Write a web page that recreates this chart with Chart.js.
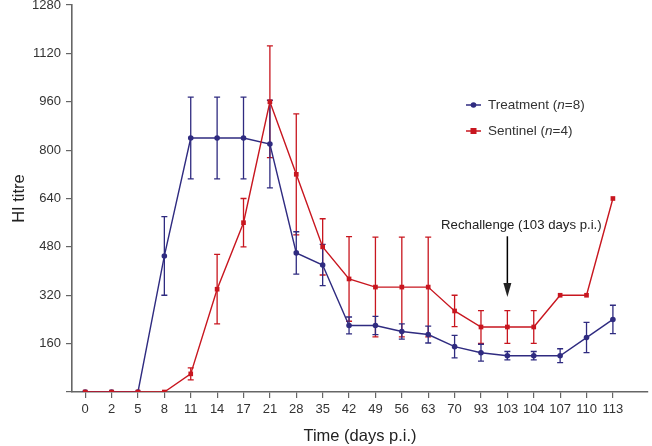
<!DOCTYPE html>
<html><head><meta charset="utf-8">
<script src="https://cdn.jsdelivr.net/npm/chart.js@4/dist/chart.umd.min.js"></script>
<style>html,body{margin:0;padding:0;background:#fff}</style>
</head><body>
<canvas id="c" width="652" height="446"></canvas>
<script>
const categories = ['0','2','5','8','11','14','17','21','28','35','42','49','56','63','70','93','103','104','107','110','113'];
const treatment    = [0,0,0,450,840,840,840,820,460,420,220,220,200,190,150,130,120,120,120,180,240];
const treatmentErr = [0,0,0,130,135,135,135,145,70,68,28,30,25,28,37,28,14,14,23,50,47];
const sentinel     = [0,0,0,0,60,340,560,960,720,480,374,347,347,347,268,215,215,215,320,320,640];
const sentinelErr  = [0,0,0,0,20,115,80,185,200,93,140,165,165,165,52,54,54,54,0,0,0];
const yTicks = [0,160,320,480,640,800,960,1120,1280];
const seriesNames = ['Treatment', 'Sentinel'];
const seriesN = ['8', '4'];
const rechallengeLabel = 'Rechallenge (103 days p.i.)';
const rechallengeDay = '103';
const rechallengeText = 550, arrowFrom = 515, arrowTo = 314;

const BLUE = '#2f2b80', RED = '#c8161f';
const FONT = '"Liberation Sans", Arial, sans-serif';

const errBars = {
  id: 'errBars',
  beforeDatasetsDraw(chart) {
    const ctx = chart.ctx, xs = chart.scales.x, ys = chart.scales.y;
    chart.data.datasets.forEach(ds => {
      ctx.save();
      ctx.strokeStyle = ds.borderColor; ctx.lineWidth = 1.3;
      ds.data.forEach((p, i) => {
        const e = ds.err[i]; if (!e) return;
        const x = xs.getPixelForValue(p.x);
        const y1 = ys.getPixelForValue(p.y + e), y2 = ys.getPixelForValue(p.y - e);
        ctx.beginPath();
        ctx.moveTo(x, y1); ctx.lineTo(x, y2);
        ctx.moveTo(x - 3, y1); ctx.lineTo(x + 3, y1);
        ctx.moveTo(x - 3, y2); ctx.lineTo(x + 3, y2);
        ctx.stroke();
      });
      ctx.restore();
    });
  }
};

const extras = {
  id: 'extras',
  afterDraw(chart) {
    const ctx = chart.ctx, xs = chart.scales.x, ys = chart.scales.y;
    // legend
    const lx = 466, ly0 = 105, gap = 26;
    [[BLUE, 'circle'], [RED, 'rect']].forEach((s, k) => {
      const y = ly0 + k * gap;
      ctx.save();
      ctx.strokeStyle = s[0]; ctx.fillStyle = s[0]; ctx.lineWidth = 1.5;
      ctx.beginPath(); ctx.moveTo(lx, y); ctx.lineTo(lx + 15, y); ctx.stroke();
      if (s[1] === 'circle') { ctx.beginPath(); ctx.arc(lx + 7.5, y, 2.8, 0, Math.PI * 2); ctx.fill(); }
      else ctx.fillRect(lx + 4.5, y - 3, 6, 6);
      ctx.fillStyle = '#333'; ctx.textBaseline = 'middle'; ctx.textAlign = 'left';
      let x = lx + 22;
      const parts = [[seriesNames[k] + ' (', 'normal'], ['n', 'italic'], ['=' + seriesN[k] + ')', 'normal']];
      parts.forEach(p => {
        ctx.font = p[1] + ' 13.5px ' + FONT;
        ctx.fillText(p[0], x, y);
        x += ctx.measureText(p[0]).width;
      });
      ctx.restore();
    });
    // rechallenge annotation
    const ax = xs.getPixelForValue(categories.indexOf(rechallengeDay));
    ctx.save();
    ctx.fillStyle = '#222'; ctx.font = '13.2px ' + FONT;
    ctx.textAlign = 'center'; ctx.textBaseline = 'middle';
    ctx.fillText(rechallengeLabel, ax + 14, ys.getPixelForValue(rechallengeText));
    const a1 = ys.getPixelForValue(arrowFrom), a2 = ys.getPixelForValue(arrowTo);
    ctx.strokeStyle = '#000'; ctx.lineWidth = 1.5;
    ctx.beginPath(); ctx.moveTo(ax, a1); ctx.lineTo(ax, a2 - 10); ctx.stroke();
    ctx.beginPath(); ctx.moveTo(ax - 4, a2 - 14); ctx.lineTo(ax + 4, a2 - 14); ctx.lineTo(ax, a2); ctx.closePath(); ctx.fill();
    ctx.restore();
  }
};

const toPts = arr => arr.map((v, i) => ({x: i, y: v}));

new Chart(document.getElementById('c'), {
  type: 'line',
  data: {
    datasets: [
      { label: 'Sentinel (n=4)', data: toPts(sentinel), err: sentinelErr, borderColor: RED, backgroundColor: RED,
        borderWidth: 1.4, pointStyle: 'rect', pointRadius: 3.3, pointBorderWidth: 0, tension: 0 },
      { label: 'Treatment (n=8)', data: toPts(treatment), err: treatmentErr, borderColor: BLUE, backgroundColor: BLUE,
        borderWidth: 1.4, pointStyle: 'circle', pointRadius: 2.8, pointBorderWidth: 0, tension: 0 }
    ]
  },
  options: {
    responsive: false, animation: false, devicePixelRatio: 1,
    layout: { padding: 0 },
    plugins: { legend: { display: false }, tooltip: { enabled: false } },
    scales: {
      x: {
        type: 'linear', min: -0.5, max: categories.length + 0.33,
        afterBuildTicks: s => { s.ticks = categories.map((c, i) => ({ value: i })); },
        afterFit: s => { s.height = 54; s.paddingLeft = 0; s.paddingRight = 0; },
        grid: { display: true, drawOnChartArea: false, drawTicks: true, tickLength: 6, color: '#666', lineWidth: 1.2 },
        border: { color: '#666', width: 1.6 },
        ticks: { autoSkip: false, maxRotation: 0, padding: 4, color: '#333', font: { family: FONT, size: 13 },
                 callback: v => categories[v] ?? '' },
        title: { display: true, text: 'Time (days p.i.)', color: '#222', font: { family: FONT, size: 16.5 }, padding: { top: 0, bottom: 0 } }
      },
      y: {
        min: 0, max: 1280,
        afterBuildTicks: s => { s.ticks = yTicks.map(v => ({ value: v })); },
        afterFit: s => { s.width = 72; s.paddingTop = 5; s.paddingBottom = 0; },
        grid: { display: true, drawOnChartArea: false, drawTicks: true, tickLength: 6, color: '#666', lineWidth: 1.2 },
        border: { color: '#666', width: 1.6 },
        ticks: { padding: 5, color: '#333', font: { family: FONT, size: 13 }, callback: v => v === 0 ? '' : String(v) },
        title: { display: true, text: 'HI titre', color: '#222', font: { family: FONT, size: 16.5 }, padding: { top: 10, bottom: 0 } }
      }
    }
  },
  plugins: [errBars, extras]
});
</script>
</body></html>
